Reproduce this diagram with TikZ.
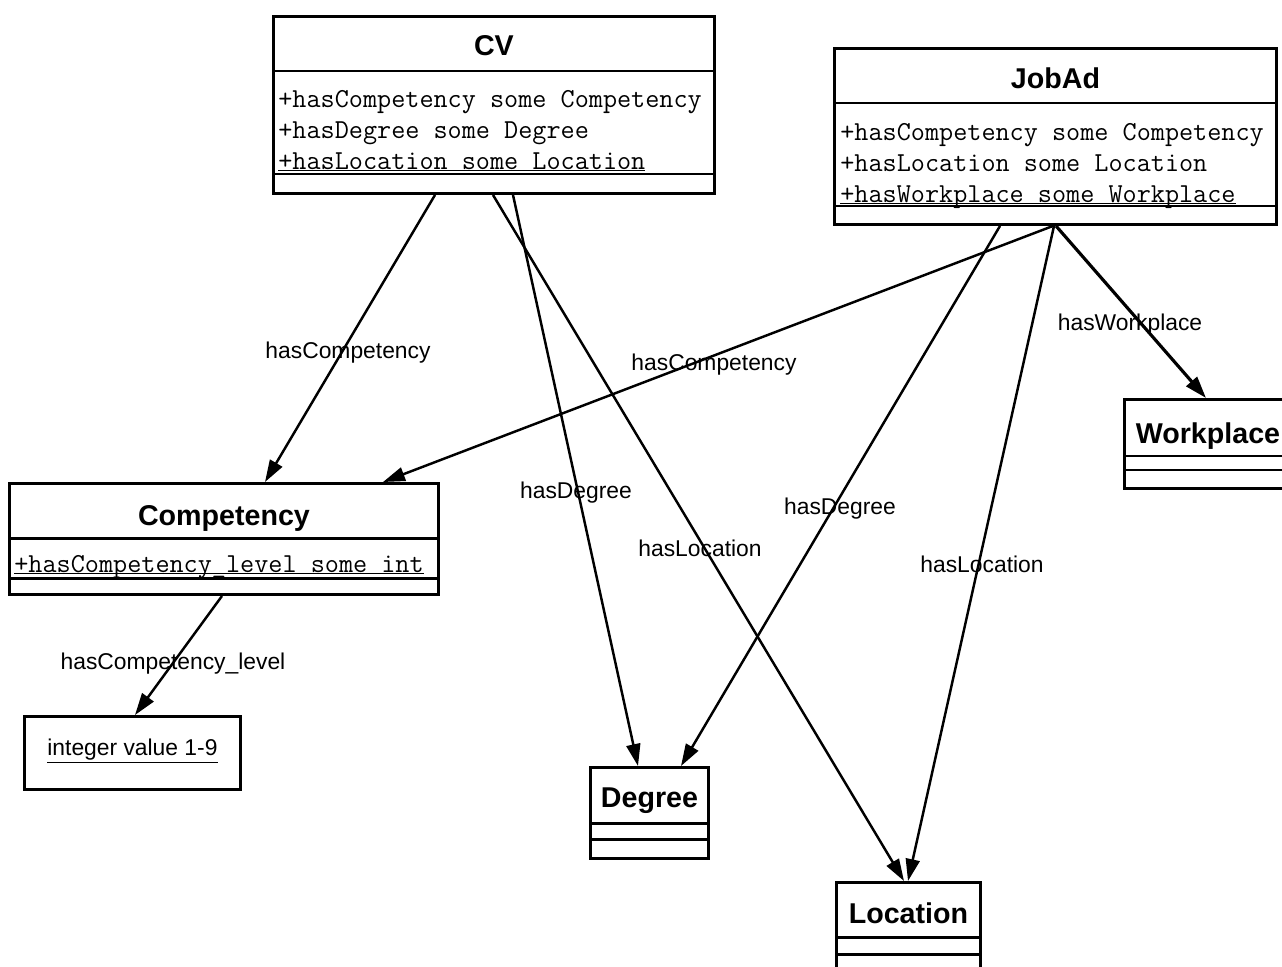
\documentclass[tikz,border=0pt]{standalone}
\usepackage{fontspec}
\setmainfont{Liberation Sans}
\usetikzlibrary{arrows.meta,calc}

% underline drawn just below the baseline (static members)
\newcommand\staticattr[1]{\setbox0\hbox{#1}\rlap{\rule[-1.4pt]{\wd0}{0.8pt}}\box0}

\tikzset{
  classbox/.style={draw, line width=1.7pt, inner sep=0pt, anchor=north west},
  classname/.style={font=\bfseries\fontsize{16.3}{19}\selectfont, anchor=base, inner sep=0pt},
  attr/.style={font=\ttfamily\fontsize{15.6}{18}\selectfont, anchor=base west, inner sep=0pt},
  compsep/.style={line width=1.7pt},
  rel/.style={line width=1.4pt, -{Triangle[length=0.44cm,width=0.28cm]}},
  rellabel/.style={font=\fontsize{13}{15}\selectfont, anchor=base, inner sep=0pt},
}

\begin{document}
\begin{tikzpicture}[x=0.02cm,y=-0.02cm]
\useasboundingbox (0,0) rectangle (1282,967);
\clip (0,0) rectangle (1282,967);

% ---------- CV ----------
\node[classbox, minimum width=8.82cm, minimum height=3.54cm] (cv) at (272,15) {};
\node[classname] (cvname) at ($(cv.north)+(0,40)$) {CV};
\draw[compsep] ($(cv.north west)+(0,56)$) -- ($(cv.north east)+(0,56)$);
\draw[compsep] ($(cv.north west)+(0,159)$) -- ($(cv.north east)+(0,159)$);
\node[attr] (cva1) at ($(cv.north west)+(6,92)$) {+hasCompetency some Competency};
\node[attr] (cva2) at ($(cv.north west)+(6,123)$) {+hasDegree some Degree};
\node[attr] (cva3) at ($(cv.north west)+(6,154)$) {\staticattr{+hasLocation some Location}};

% ---------- JobAd ----------
\node[classbox, minimum width=8.84cm, minimum height=3.52cm] (jobad) at (833,47) {};
\node[classname] (jobadname) at ($(jobad.north)+(0,41)$) {JobAd};
\draw[compsep] ($(jobad.north west)+(0,56)$) -- ($(jobad.north east)+(0,56)$);
\draw[compsep] ($(jobad.north west)+(0,159)$) -- ($(jobad.north east)+(0,159)$);
\node[attr] (joba1) at ($(jobad.north west)+(7,93)$) {+hasCompetency some Competency};
\node[attr] (joba2) at ($(jobad.north west)+(7,124)$) {+hasLocation some Location};
\node[attr] (joba3) at ($(jobad.north west)+(7,155)$) {\staticattr{+hasWorkplace some Workplace}};

% ---------- Competency ----------
\node[classbox, minimum width=8.58cm, minimum height=2.22cm] (comp) at (8,482) {};
\node[classname] (compname) at ($(comp.north)+(0,43)$) {Competency};
\draw[compsep] ($(comp.north west)+(0,56)$) -- ($(comp.north east)+(0,56)$);
\draw[compsep] ($(comp.north west)+(0,96)$) -- ($(comp.north east)+(0,96)$);
\node[attr] (compa1) at ($(comp.north west)+(6,90)$) {\staticattr{+hasCompetency\_level some int}};

% ---------- Degree ----------
\node[classbox, minimum width=2.36cm, minimum height=1.82cm] (degree) at (589,766) {};
\node[classname] (degreename) at ($(degree.north)+(0,41)$) {Degree};
\draw[compsep] ($(degree.north west)+(0,57)$) -- ($(degree.north east)+(0,57)$);
\draw[compsep] ($(degree.north west)+(0,73)$) -- ($(degree.north east)+(0,73)$);

% ---------- Location ----------
\node[classbox, minimum width=2.88cm, minimum height=1.8cm] (location) at (835,881) {};
\node[classname] (locationname) at ($(location.north)+(0,42)$) {Location};
\draw[compsep] ($(location.north west)+(0,56)$) -- ($(location.north east)+(0,56)$);
\draw[compsep] ($(location.north west)+(0,73)$) -- ($(location.north east)+(0,73)$);

% ---------- Workplace ----------
\node[classbox, minimum width=3.34cm, minimum height=1.78cm] (workplace) at (1123,398) {};
\node[classname] (workplacename) at ($(workplace.north)+(0,45)$) {Workplace};
\draw[compsep] ($(workplace.north west)+(0,58)$) -- ($(workplace.north east)+(0,58)$);
\draw[compsep] ($(workplace.north west)+(0,72)$) -- ($(workplace.north east)+(0,72)$);

% ---------- integer value ----------
\node[classbox, minimum width=4.32cm, minimum height=1.46cm] (intval) at (23,715) {};
\node[font=\fontsize{13}{15}\selectfont, anchor=base, inner sep=0pt] (intvaltext)
  at ($(intval.north)+(0,40)$) {\underline{integer value 1-9}};

% ---------- relations ----------
\draw[rel] ($(cv.south west)+(163,0)$) -- ($(comp.north west)+(257,0)$);
\draw[rel] ($(cv.south west)+(241,0)$) -- ($(degree.north west)+(49,0)$);
\draw[rel] ($(cv.south west)+(221,0)$) -- ($(location.north west)+(69,0)$);
\draw[rel] ($(jobad.south west)+(220,0)$) -- ($(comp.north west)+(375,0)$);
\draw[rel] ($(jobad.south west)+(167,0)$) -- ($(degree.north west)+(92,0)$);
\draw[rel] ($(jobad.south west)+(221,0)$) -- ($(location.north west)+(73,0)$);
\draw[rel, line width=1.8pt] ($(jobad.south west)+(223,0)$) -- ($(workplace.north west)+(83,0)$);
\draw[rel] ($(comp.south west)+(214,0)$) -- ($(intval.north west)+(112,0)$);

% ---------- relation labels ----------
\node[rellabel] (lcvcomp) at (348,358) {hasCompetency};
\node[rellabel] (lcvdeg) at (576,498) {hasDegree};
\node[rellabel] (lcvloc) at (700,556) {hasLocation};
\node[rellabel] (ljobcomp) at (714,370) {hasCompetency};
\node[rellabel] (ljobdeg) at (840,514) {hasDegree};
\node[rellabel] (ljobloc) at (982,572) {hasLocation};
\node[rellabel] (ljobwork) at (1130,330) {hasWorkplace};
\node[rellabel] (lcomplevel) at (173,669) {hasCompetency\_level};
\end{tikzpicture}
\end{document}
